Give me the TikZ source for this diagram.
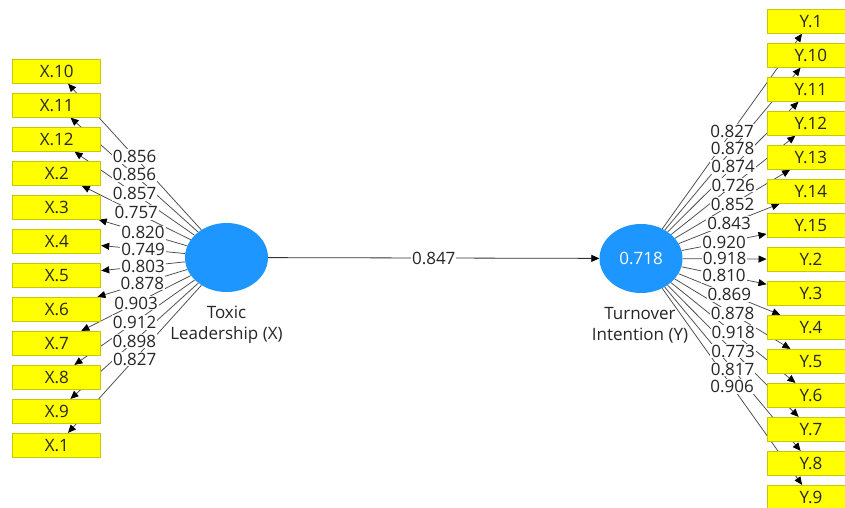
\documentclass[tikz,border=0pt]{standalone}
\usepackage{fontspec}
\setmainfont{Open Sans}
\usetikzlibrary{shapes.geometric,arrows.meta,backgrounds}
\definecolor{boxfill}{HTML}{FFFF00}
\definecolor{boxline}{HTML}{C8C800}
\definecolor{lvfill}{HTML}{1E96FF}
\definecolor{edgecol}{HTML}{4A4A4A}
\definecolor{txt}{HTML}{262626}
\begin{document}
\begin{tikzpicture}[x=1pt,y=-1pt,font=\fontsize{17}{19}\selectfont,
  ind/.style={draw=boxline,fill=boxfill,minimum width=88pt,minimum height=24pt,inner sep=0pt,line width=0.8pt,text=txt},
  lv/.style={ellipse,fill=lvfill,inner sep=0pt,minimum width=83pt,minimum height=69pt},
  load/.style={draw=edgecol,line width=0.75pt,-{Triangle[length=8pt,width=7pt,color=black]}},
  pathst/.style={draw=black!80,line width=0.8pt,-{Triangle[length=8pt,width=7pt,color=black]}},
  lab/.style={fill=white,inner sep=1pt,text=txt},
  lvname/.style={align=center,text=txt,font=\fontsize{17}{21}\selectfont}]
\useasboundingbox (0,0) rectangle (845,508);
% latent variables
\node[lv] (X) at (226.5,257.5) {};
\node[lv,text=white] (Y) at (641,258.5) {0.718};
\node[lvname] (Xn) at (226.5,324.5) {Toxic\\Leadership (X)};
\node[lvname] (Yn) at (640,325.5) {Turnover\\Intention (Y)};
% left indicators
\foreach \n [count=\i from 0] in {10,11,12,2,3,4,5,6,7,8,9,1}
  \node[ind] (x\n) at (56.8,71.3+34*\i) {X.\n};
% right indicators
\foreach \n [count=\i from 0] in {1,10,11,12,13,14,15,2,3,4,5,6,7,8,9}
  \node[ind] (y\n) at (810.9,21.3+34*\i) {Y.\n};
\begin{pgfonlayer}{background}
\fill[white] (0,0) rectangle (845,508);
\foreach \n in {10,11,12,2,3,4,5,6,7,8,9,1}
  \draw[load] (X) -- (x\n);
\foreach \n in {1,10,11,12,13,14,15,2,3,4,5,6,7,8,9}
  \draw[load] (Y) -- (y\n);
\draw[pathst] (X) -- (Y);
\foreach \n/\v in {10/0.856,11/0.856,12/0.857,2/0.757,3/0.820,4/0.749,5/0.803,6/0.878,7/0.903,8/0.912,9/0.898,1/0.827}
  \path (X) -- node[lab] {\v} (x\n);
\foreach \n/\v in {1/0.827,10/0.878,11/0.874,12/0.726,13/0.852,14/0.843,15/0.920,2/0.918,3/0.810,4/0.869,5/0.878,6/0.918,7/0.773,8/0.817,9/0.906}
  \path (Y) -- node[lab] {\v} (y\n);
\path (X) -- node[lab] (pc) {0.847} (Y);
\end{pgfonlayer}
\end{tikzpicture}
\end{document}
